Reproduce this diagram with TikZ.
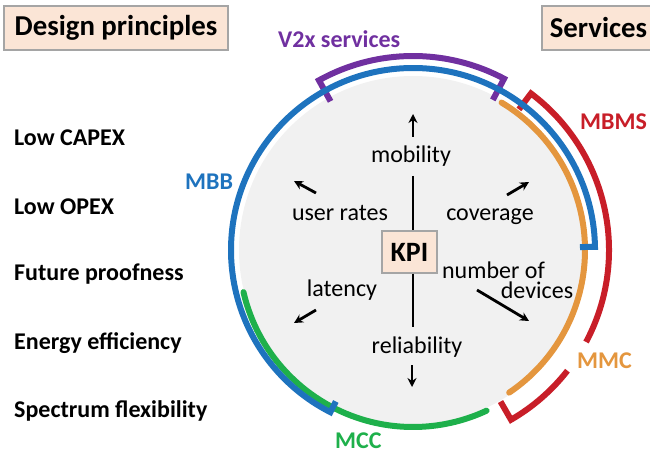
\documentclass[tikz,border=0pt]{standalone}
\usepackage{fontspec}
\setmainfont{Carlito}
\usetikzlibrary{arrows.meta}
\definecolor{peach}{RGB}{251,229,214}
\definecolor{boxline}{RGB}{165,165,165}
\definecolor{disc}{RGB}{241,241,241}
\definecolor{mbbc}{RGB}{30,115,190}
\definecolor{v2xc}{RGB}{112,48,160}
\definecolor{mbmsc}{RGB}{200,30,40}
\definecolor{mmcc}{RGB}{228,150,62}
\definecolor{mccc}{RGB}{30,176,75}
\begin{document}
\begin{tikzpicture}[x=1pt,y=1pt,
  hdr/.style={draw=boxline, line width=1.2pt, fill=peach, inner sep=0pt,
    font=\fontsize{28.8}{32}\selectfont\bfseries},
  principle/.style={anchor=base west, inner sep=0pt,
    font=\fontsize{24}{28}\selectfont\bfseries},
  svclabel/.style={anchor=base west, inner sep=0pt,
    font=\fontsize{24}{28}\selectfont\bfseries},
  kpilabel/.style={anchor=base, inner sep=0pt,
    font=\fontsize{24}{28}\selectfont},
  kpibox/.style={draw=boxline, line width=1.2pt, fill=peach, minimum width=55pt,
    minimum height=42pt, inner sep=0pt, font=\fontsize{28}{32}\selectfont\bfseries},
  ring/.style={line width=6pt, line join=miter},
  kpiline/.style={line width=2.8pt},
  kpiarrow/.style={line width=2.8pt, -{Stealth[length=9pt,width=9pt]}}
]
\useasboundingbox (0,0) rectangle (650,453);

% grey disc
\fill[disc] (413,203) circle (174);

% header boxes
\node[hdr, minimum width=224pt, minimum height=44pt] (dp) at (116,425) {Design principles};
\node[hdr, minimum width=113pt, minimum height=44pt] (sv) at (598.5,425) {Services};

% design principles
\node[principle] (p1) at (14,307) {Low CAPEX};
\node[principle] (p2) at (14,238) {Low OPEX};
\node[principle] (p3) at (14,173) {Future proofness};
\node[principle] (p4) at (14,104) {Energy efficiency};
\node[principle] (p5) at (14,36) {Spectrum flexibility};

% service rings (drawn under the blue ring)
\draw[ring, v2xc, shift={(413,203)}] (62:170) -- (62:194)
   arc[start angle=62, end angle=119, radius=194] -- (119:170);
\draw[ring, mbmsc, shift={(413,203)}] (53:176) -- (53:196)
   arc[start angle=53, end angle=-28, radius=196];
\draw[ring, mbmsc, shift={(413,203)}] (-38:196)
   arc[start angle=-38, end angle=-60, radius=196] -- (-60:175);
\draw[ring, mmcc, line cap=round, shift={(413,203)}] (59:172)
   arc[start angle=59, end angle=-56, radius=172];
\draw[ring, mccc, line cap=round, shift={(413,200)}] (193:174)
   arc[start angle=193, end angle=295, radius=174];
\draw[ring, mbbc, shift={(413,203)}] (1:167) -- (1:182)
   arc[start angle=1, end angle=243, radius=182] -- (243:170);

% service labels
\node[svclabel, text=v2xc] (v2x) at (278,405) {V2x services};
\node[svclabel, text=mbmsc] (mbms) at (580,323) {MBMS};
\node[svclabel, text=mbbc] (mbb) at (185,263) {MBB};
\node[svclabel, text=mmcc] (mmc) at (577,85) {MMC};
\node[svclabel, text=mccc] (mcc) at (335,5) {MCC};

% KPI
\node[kpibox] (kpi) at (409.5,201) {KPI};
\coordinate (vt) at (413,277);
\coordinate (vb) at (413,126);
\draw[kpiline] (vt) -- (kpi.north -| vt);
\draw[kpiline] (kpi.south -| vb) -- (vb);

% KPI labels
\node[kpilabel] (mob) at (411,290.3) {mobility};
\node[kpilabel] (ur) at (340,232.3) {user rates};
\node[kpilabel] (cov) at (490,232.3) {coverage};
\node[kpilabel] (lat) at (342,156.3) {latency};
\node[kpilabel] (nof) at (493.5,175) {number of};
\node[kpilabel] (dev) at (537,155) {devices};
\node[kpilabel] (rel) at (417,100) {reliability};

% KPI arrows
\coordinate (a1s) at (413,316); \coordinate (a1e) at (413,339);
\coordinate (a2s) at (412,88);  \coordinate (a2e) at (412,66);
\coordinate (a3s) at (316,260); \coordinate (a3e) at (294,272);
\coordinate (a4s) at (507,258); \coordinate (a4e) at (529,271);
\coordinate (a5s) at (316,143); \coordinate (a5e) at (294,130);
\coordinate (a6s) at (477,163); \coordinate (a6e) at (529,132);
\draw[kpiarrow] (a1s) -- (a1e);
\draw[kpiarrow] (a2s) -- (a2e);
\draw[kpiarrow] (a3s) -- (a3e);
\draw[kpiarrow] (a4s) -- (a4e);
\draw[kpiarrow] (a5s) -- (a5e);
\draw[kpiarrow] (a6s) -- (a6e);
\end{tikzpicture}
\end{document}
